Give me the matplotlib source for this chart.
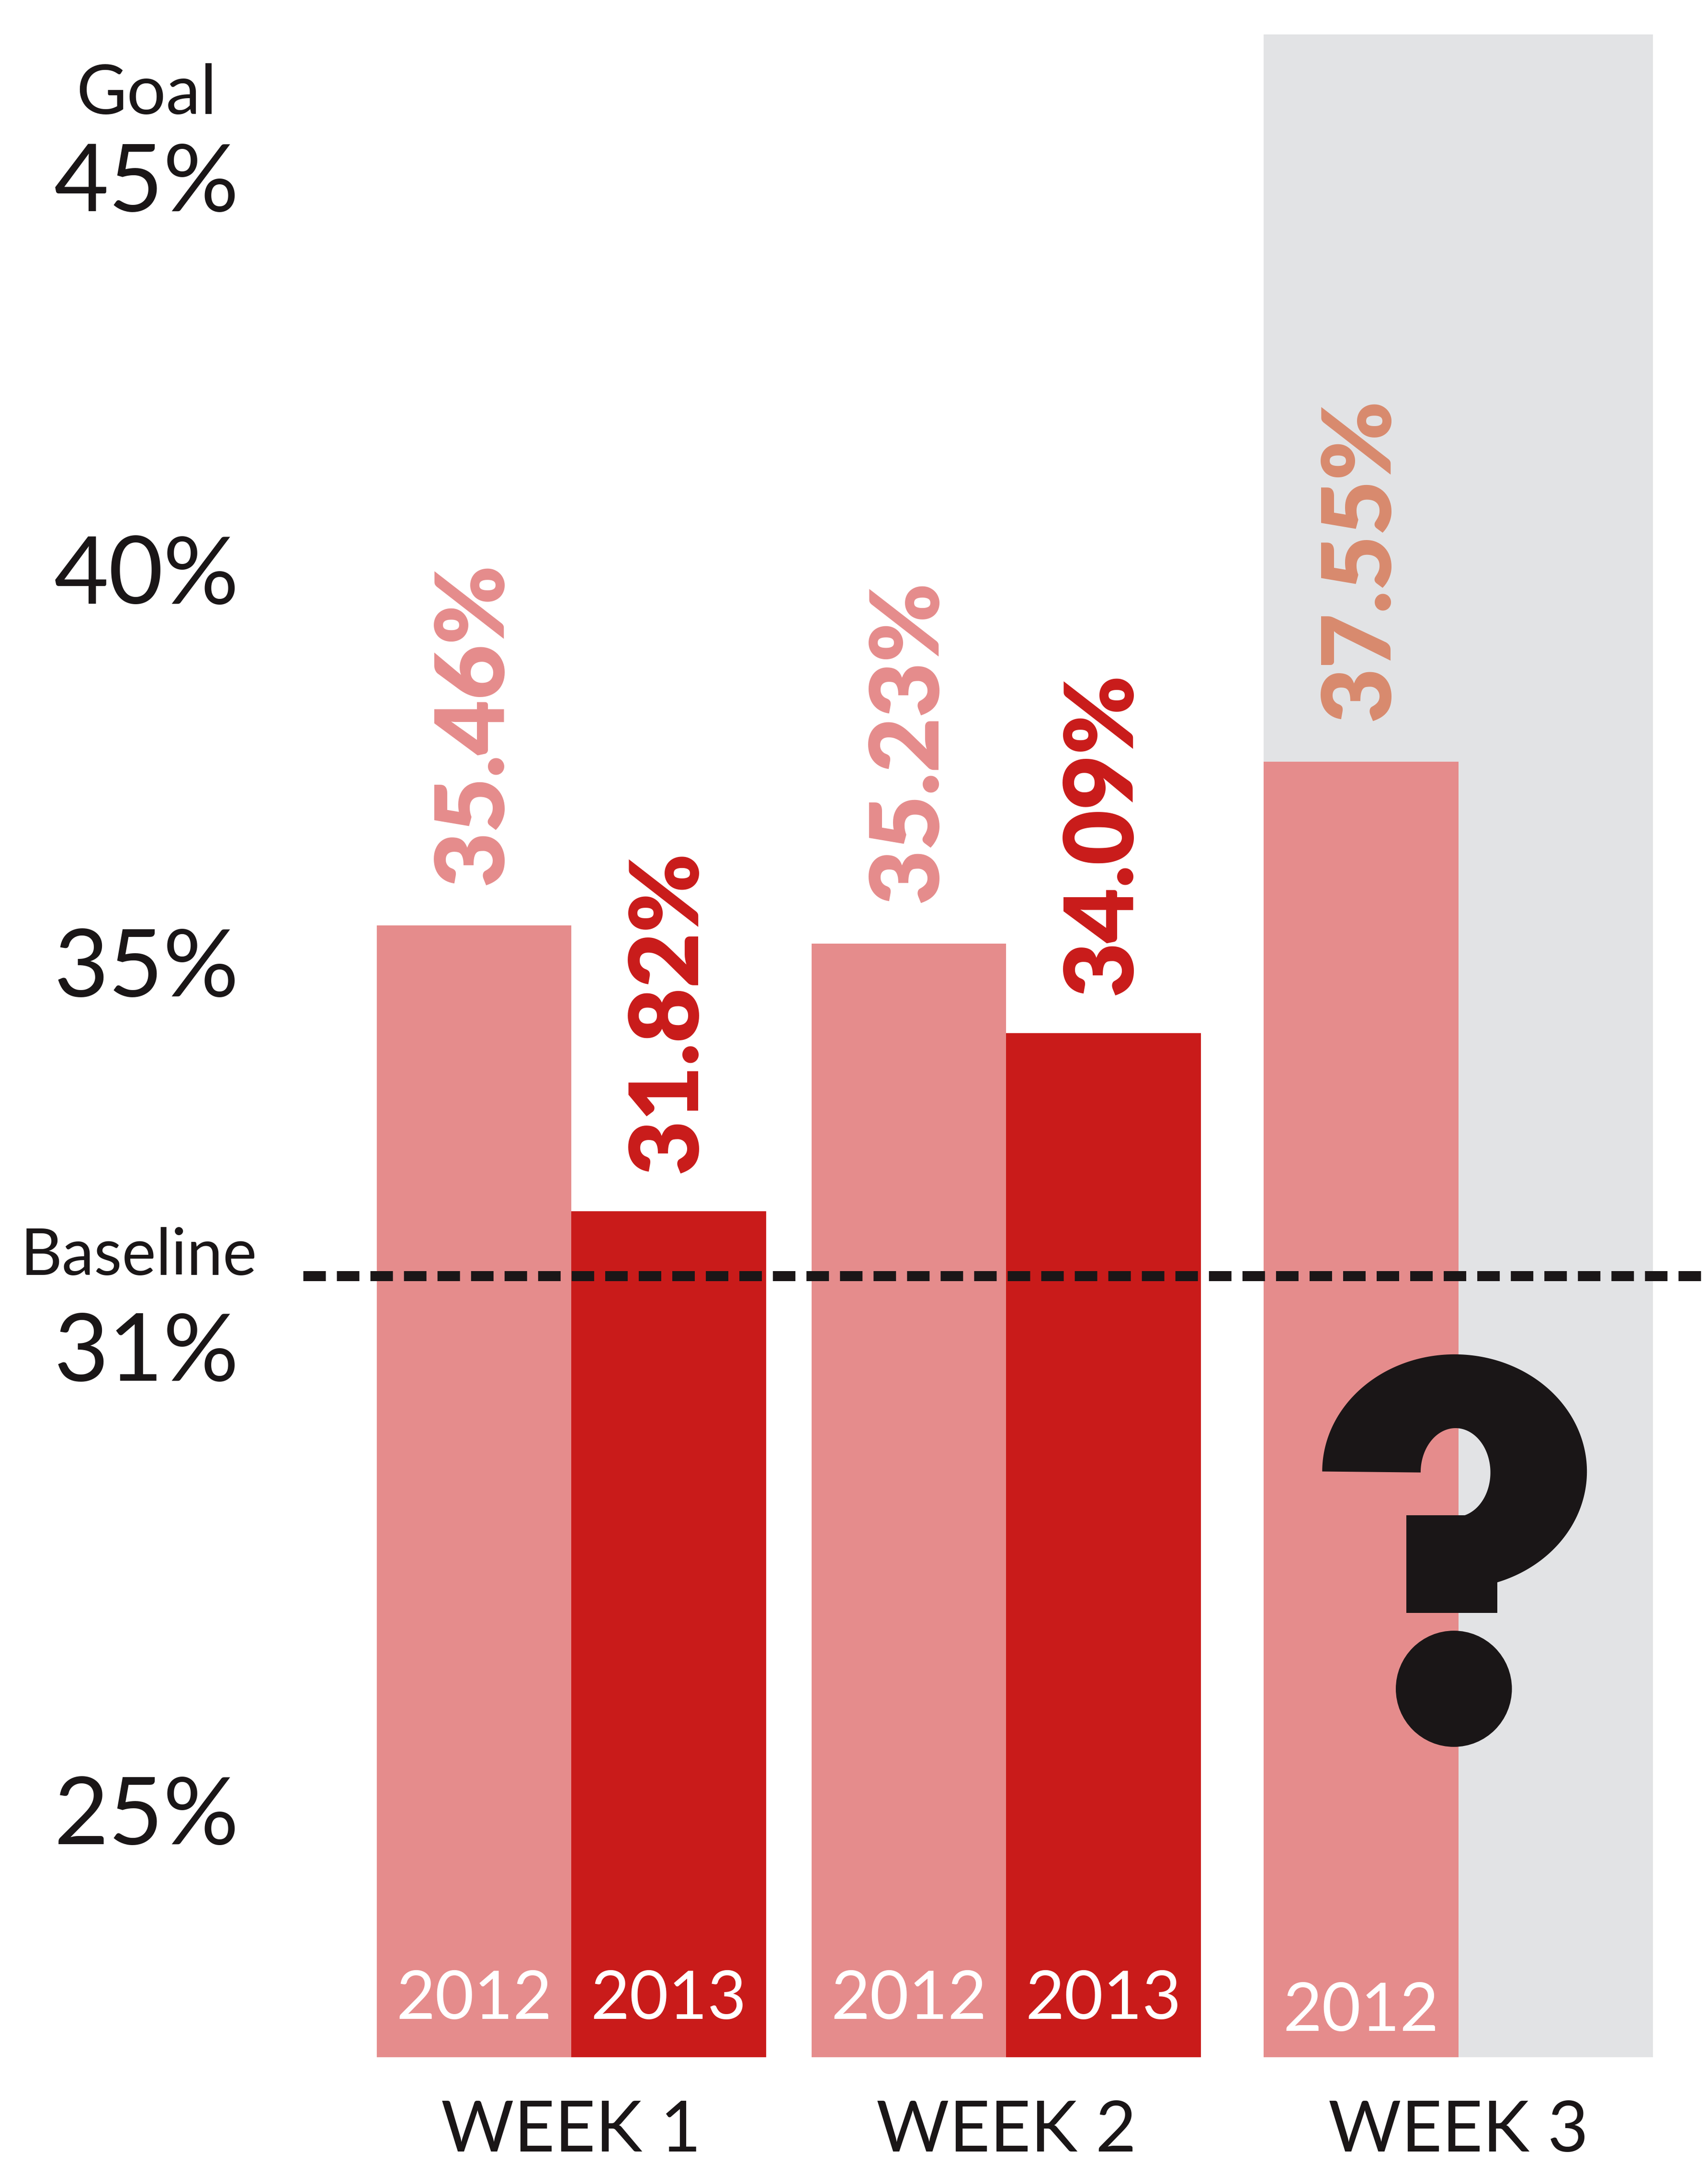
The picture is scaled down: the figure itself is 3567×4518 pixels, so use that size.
import numpy as np
import matplotlib
matplotlib.use("Agg")
import matplotlib.pyplot as plt
from matplotlib.patches import Polygon, Ellipse, Rectangle

# data
weeks = ["WEEK 1", "WEEK 2", "WEEK 3"]
years = ["2012", "2013"]
rate_2012 = [35.46, 35.23, 37.55]
rate_2013 = [31.82, 34.09]          # week 3 of 2013 still unknown
baseline = 31
goal = 45
tick_values = [45, 40, 35, 31, 25]
tick_labels = ["45%", "40%", "35%", "31%", "25%"]

PINK = "#E58C8C"
RED = "#C91B1A"
SALMON = "#D88A6E"
GREY = "#E2E3E5"
INK = "#1A1617"

plt.rcParams["font.family"] = ["Lato", "DejaVu Sans"]

fig = plt.figure(figsize=(35.67, 45.18), dpi=100)
ax = fig.add_axes([0, 0, 1, 1])
ax.set_xlim(-2.935, 5.84)
ax.set_ylim(19.70, 47.25)
ax.axis("off")

group_x = np.array([0.0, 2.234, 4.558])
floor = 21.05
top_grey = 46.81

# grey "pending" column behind week 3
ax.bar(group_x[2], top_grey - floor, width=2.0, bottom=floor, color=GREY, zorder=0)

x12 = group_x - 0.5
x13 = group_x[:len(rate_2013)] + 0.5
ax.bar(x12, np.array(rate_2012) - floor, width=1.0, bottom=floor, color=PINK, zorder=1)
ax.bar(x13, np.array(rate_2013) - floor, width=1.0, bottom=floor, color=RED, zorder=1)

# value labels on top of bars
lab12_colors = [PINK, PINK, SALMON]
for x, v, c in zip(x12, rate_2012, lab12_colors):
    ax.annotate(f"{v:.2f}%", (x, v), xytext=(0, 61), textcoords="offset points",
                rotation=90, ha="center", va="bottom", fontsize=143,
                fontweight="heavy", color=c)
for x, v in zip(x13, rate_2013):
    ax.annotate(f"{v:.2f}%", (x, v), xytext=(0, 57), textcoords="offset points",
                rotation=90, ha="center", va="bottom", fontsize=143,
                fontweight="heavy", color=RED)

# year names inside the bars
for i, x in enumerate(x12):
    lift = 39 if i == 2 else 57
    ax.annotate(years[0], (x, floor), xytext=(0, lift), textcoords="offset points",
                ha="center", va="baseline", fontsize=101, color="white", zorder=4)
for x in x13:
    ax.annotate(years[1], (x, floor), xytext=(0, 57), textcoords="offset points",
                ha="center", va="baseline", fontsize=101, color="white", zorder=4)

# week names under the groups
for x, name in zip(group_x, weeks):
    ax.annotate(name, (x, floor), xytext=(0, -142), textcoords="offset points",
                ha="center", va="baseline", fontsize=106, color=INK)

# baseline dashed line
ax.hlines(baseline, -1.378, 5.84, colors=INK, linewidth=15.1,
          linestyles=(0, (2.24, 1.1)), zorder=5, capstyle="butt")

# left-hand scale labels
label_x = -2.182
drops = [52, 52, 52, 158, 146]
for v, t, d in zip(tick_values, tick_labels, drops):
    ax.annotate(t, (label_x, v), xytext=(0, -d), textcoords="offset points",
                ha="center", va="baseline", fontsize=142, color=INK)
ax.annotate("Goal", (label_x, goal), xytext=(0, 94), textcoords="offset points",
            ha="center", va="baseline", fontsize=104, color=INK)
ax.annotate("Baseline", (label_x - 0.04, baseline), xytext=(0, 1), textcoords="offset points",
            ha="center", va="baseline", fontsize=97, color=INK)

# big geometric question mark over the missing week 3 bar
q_x0, q_x1 = group_x[2] - 0.70, group_x[2] + 0.66
q_y0, q_y1 = 25.0, 30.0


def qmap(u, v):
    return np.column_stack([q_x0 + np.asarray(u) * (q_x1 - q_x0),
                            q_y0 + np.asarray(v) * (q_y1 - q_y0)])


t = np.linspace(np.pi, -np.pi / 2, 200)
outer = qmap(0.5 + 0.5 * np.cos(t), 0.7016 + 0.2984 * np.sin(t))
inner = qmap(0.5036 + 0.1318 * np.cos(t[::-1]), 0.6990 + 0.1130 * np.sin(t[::-1]))
ax.add_patch(Polygon(np.vstack([outer, inner]), closed=True, facecolor=INK,
                     edgecolor="none", zorder=3))
stem0 = qmap(0.3177, 0.3410)[0]
stem1 = qmap(0.6606, 0.5900)[0]
ax.add_patch(Rectangle(stem0, stem1[0] - stem0[0], stem1[1] - stem0[1],
                       facecolor=INK, edgecolor="none", zorder=3))
dot_c = qmap(0.4973, 0.148)[0]
ax.add_patch(Ellipse(dot_c, 0.4386 * (q_x1 - q_x0), 0.296 * (q_y1 - q_y0),
                     facecolor=INK, edgecolor="none", zorder=3))

fig.savefig("out.png", dpi=100, facecolor="white")
